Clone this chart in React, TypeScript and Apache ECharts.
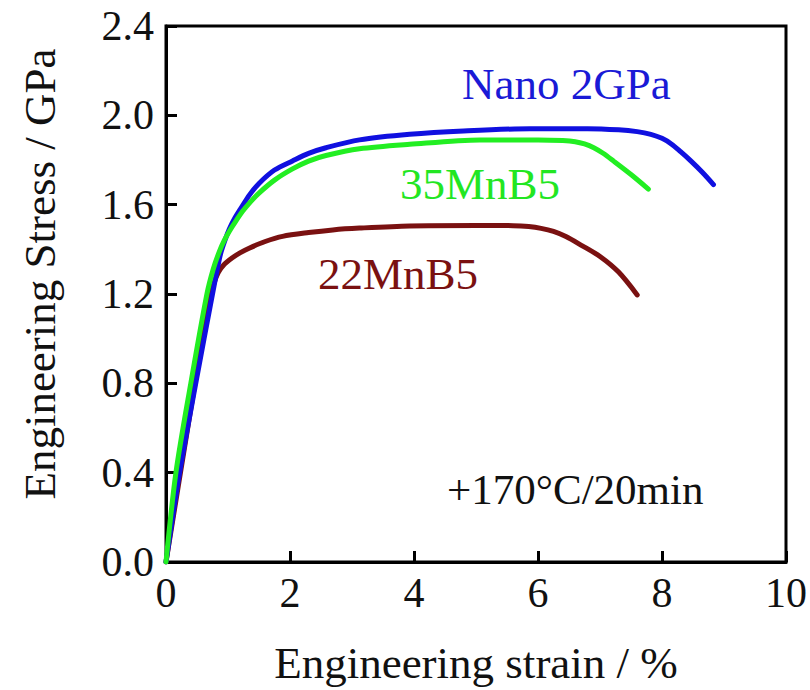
import React, { useEffect, useRef } from "react";
import * as echarts from "echarts";

const xTicks = [0, 2, 4, 6, 8, 10];
const yTicks = [0.0, 0.4, 0.8, 1.2, 1.6, 2.0, 2.4];

const nanoStrain = [0, 0.22, 0.48, 0.75, 0.82, 0.88, 0.95, 1.02, 1.1, 1.2, 1.35, 1.5, 1.75, 2.04, 2.3, 2.58, 3.12, 3.93, 4.8, 5.87, 6.8, 7.3, 7.6, 7.82, 8.0, 8.15, 8.3, 8.46, 8.65, 8.83];
const nanoStress = [0, 0.4, 0.8, 1.2, 1.3, 1.38, 1.44, 1.49, 1.535, 1.58, 1.645, 1.695, 1.755, 1.796, 1.83, 1.855, 1.89, 1.915, 1.93, 1.94, 1.94, 1.935, 1.927, 1.915, 1.897, 1.872, 1.837, 1.797, 1.745, 1.69];

const mn35Strain = [0, 0.16, 0.4, 0.66, 0.76, 0.86, 0.94, 1.02, 1.1, 1.235, 1.37, 1.5, 1.75, 2.04, 2.3, 2.58, 3.12, 3.93, 5.06, 6.0, 6.4, 6.6, 6.75, 6.9, 7.05, 7.22, 7.5, 7.78];
const mn35Stress = [0, 0.4, 0.8, 1.2, 1.31, 1.39, 1.44, 1.48, 1.515, 1.57, 1.615, 1.652, 1.71, 1.76, 1.795, 1.82, 1.85, 1.87, 1.89, 1.89, 1.887, 1.882, 1.872, 1.855, 1.83, 1.795, 1.735, 1.67];

const mn22Strain = [0, 0.35, 0.66, 0.72, 0.77, 0.84, 0.93, 1.07, 1.2, 1.34, 1.6, 1.88, 2.3, 2.69, 3.12, 3.93, 5.0, 5.6, 5.85, 6.05, 6.25, 6.45, 6.7, 7.0, 7.3, 7.6];
const mn22Stress = [0, 0.6, 1.12, 1.19, 1.245, 1.295, 1.33, 1.362, 1.385, 1.405, 1.435, 1.458, 1.475, 1.487, 1.495, 1.505, 1.507, 1.506, 1.502, 1.494, 1.48, 1.457, 1.418, 1.368, 1.298, 1.196];

const seriesNames = ["22MnB5", "Nano 2GPa", "35MnB5"];
const seriesColors = ["#7a1111", "#1010e0", "#22ee22"];
const annotation = "+170\u00B0C/20min";
const xTitle = "Engineering strain / %";
const yTitle = "Engineering Stress / GPa";

const FONT = "'Liberation Serif', 'Times New Roman', serif";

function zip(xs: number[], ys: number[]) {
  return xs.map((x, i) => [x, ys[i]]);
}

export default function App() {
  const ref = useRef<HTMLDivElement>(null);
  useEffect(() => {
    if (!ref.current) return;
    const chart = echarts.init(ref.current, undefined, { renderer: "svg" });
    const datasets = [zip(mn22Strain, mn22Stress), zip(nanoStrain, nanoStress), zip(mn35Strain, mn35Stress)];
    chart.setOption({
      animation: false,
      backgroundColor: "#ffffff",
      grid: {
        left: 166,
        right: 24,
        top: 26,
        bottom: 126,
        show: true,
        borderColor: "#000",
        borderWidth: 3,
      },
      xAxis: {
        type: "value",
        min: 0,
        max: 10,
        interval: 2,
        name: xTitle,
        nameLocation: "middle",
        nameGap: 78,
        nameTextStyle: { fontFamily: FONT, fontSize: 45, color: "#111" },
        axisLine: { show: true, lineStyle: { color: "#000", width: 3 } },
        axisTick: { show: true, inside: true, length: 11, lineStyle: { color: "#000", width: 3 } },
        splitLine: { show: false },
        axisLabel: {
          fontFamily: FONT,
          fontSize: 42,
          color: "#111",
          margin: 10,
          formatter: (v: number) => (xTicks.includes(v) ? String(v) : ""),
        },
      },
      yAxis: {
        type: "value",
        min: 0,
        max: 2.4,
        interval: 0.4,
        axisLine: { show: true, lineStyle: { color: "#000", width: 3 } },
        axisTick: { show: true, inside: true, length: 11, lineStyle: { color: "#000", width: 3 } },
        splitLine: { show: false },
        axisLabel: {
          fontFamily: FONT,
          fontSize: 42,
          color: "#111",
          margin: 12,
          formatter: (v: number) => {
            const t = yTicks.find((y) => Math.abs(y - v) < 1e-6);
            return t === undefined ? "" : t.toFixed(1);
          },
        },
      },
      series: seriesNames.map((name, i) => ({
        name,
        type: "line",
        data: datasets[i],
        smooth: 0.3,
        showSymbol: false,
        symbol: "none",
        lineStyle: { color: seriesColors[i], width: 5, cap: "round", join: "round" },
        z: 2 + i,
      })),
      graphic: [
        {
          type: "text",
          x: 40,
          y: 274,
          rotation: Math.PI / 2,
          style: {
            text: yTitle,
            font: `45px ${FONT}`,
            fill: "#111",
            align: "center",
            verticalAlign: "middle",
          },
        },
        {
          type: "text",
          x: 462,
          y: 84,
          style: { text: seriesNames[1], font: `45px ${FONT}`, fill: "#1a1ad6", align: "left", verticalAlign: "middle" },
        },
        {
          type: "text",
          x: 400,
          y: 184,
          style: { text: seriesNames[2], font: `45px ${FONT}`, fill: "#22e622", align: "left", verticalAlign: "middle" },
        },
        {
          type: "text",
          x: 318,
          y: 274,
          style: { text: seriesNames[0], font: `45px ${FONT}`, fill: "#7a1111", align: "left", verticalAlign: "middle" },
        },
        {
          type: "text",
          x: 447,
          y: 489,
          style: { text: annotation, font: `43px ${FONT}`, fill: "#111", align: "left", verticalAlign: "middle" },
        },
      ],
    });
    return () => chart.dispose();
  }, []);
  return (
    <div
      ref={ref}
      style={{ position: "fixed", left: 0, top: 0, width: 810, height: 690, background: "#fff" }}
    />
  );
}
